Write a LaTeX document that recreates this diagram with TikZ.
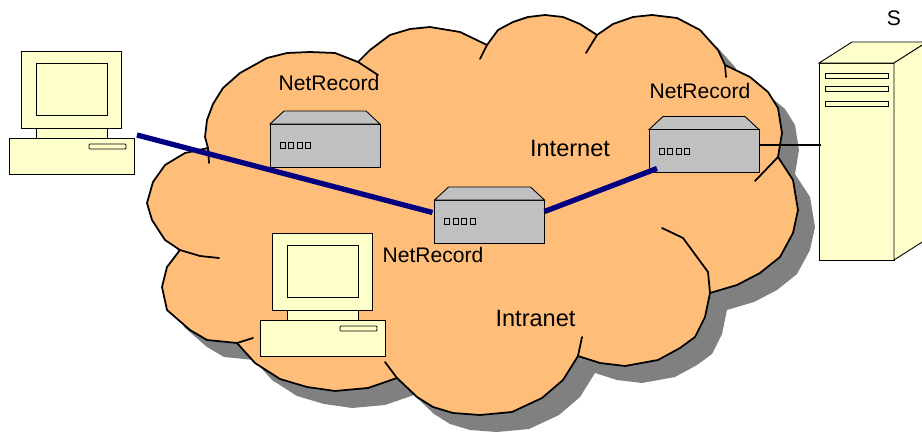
\documentclass[tikz,border=0pt]{standalone}
\usepackage{fontspec}
\setmainfont{Liberation Sans}
\usetikzlibrary{positioning}
\definecolor{cloudfill}{HTML}{FFBD7A}
\definecolor{pcfill}{HTML}{FFFFCC}
\definecolor{boxfill}{HTML}{C0C0C0}
\definecolor{cloudshade}{HTML}{808080}
\definecolor{wire}{HTML}{000080}
\tikzstyle{R} = [rectangle,draw=black,fill=boxfill,minimum width=2.2cm,minimum height=0.86cm,inner sep=0pt,outer sep=0pt,line width=0.5pt]
\tikzstyle{P} = [rectangle,draw=black,fill=boxfill,minimum width=0.1cm,minimum height=0.12cm,inner sep=0pt,outer sep=0pt,line width=0.4pt]
\tikzstyle{C} = [rectangle,draw=black,fill=pcfill,inner sep=0pt,outer sep=0pt,line width=0.5pt]
\tikzstyle{L} = [inner sep=0pt,font=\fontsize{12}{14}\selectfont]
\tikzstyle{T} = [L,font=\fontsize{13.4}{16}\selectfont]
\tikzstyle{edge} = [line width=1pt,line join=round,line cap=round]
\tikzstyle{link} = [draw=wire,line width=3pt]
% router: body, top face, four ports
\newcommand{\router}[2]{
  \node [R] (#1) at (#2) {};
  \draw [fill=boxfill,line width=0.5pt] (#1.north west) -- ++(14,-13) -- ++(82,0) -- (#1.north east) -- cycle;
  \node [P,anchor=west] (#1p1) at ([xshift=0.2cm]#1.west) {};
  \node [P,right=0.07cm of #1p1] (#1p2) {};
  \node [P,right=0.07cm of #1p2] (#1p3) {};
  \node [P,right=0.07cm of #1p3] (#1p4) {};
}
% computer: case with drive slot, neck, monitor, screen
\newcommand{\computer}[2]{
  \node [C,minimum width=2.5cm,minimum height=0.72cm] (#1) at (#2) {};
  \node [C,minimum width=1.42cm,minimum height=0.2cm,above=0pt of #1] (#1n) {};
  \node [C,minimum width=2cm,minimum height=1.54cm,above=0pt of #1n] (#1m) {};
  \node [C,minimum width=1.42cm,minimum height=1.04cm] (#1s) at ([yshift=0.78cm]#1m.south) {};
  \node [C,minimum width=0.74cm,minimum height=0.1cm,rounded corners=0.5pt,anchor=north east] (#1d) at ([xshift=-0.16cm,yshift=-0.12cm]#1.north east) {};
}

\begin{document}
\begin{tikzpicture}[x=0.02cm,y=-0.02cm]
  \path [use as bounding box] (0,0) rectangle (922,432);
  \clip (0,0) rectangle (922,432);

  % cloud outline
  \def\cloudpath{(208,148) -- (205,137) -- (207,120) -- (213,104) -- (223,88) -- (240,73) -- (267,58)
    -- (287,53) -- (310,52) -- (335,53) -- (358,62) -- (370,50) -- (390,35) -- (410,29) -- (430,27)
    -- (460,32) -- (487,45) -- (498,30) -- (513,22) -- (528,17) -- (545,15) -- (563,17) -- (580,24)
    -- (597,35) -- (613,24) -- (633,17) -- (652,15) -- (677,18) -- (700,30) -- (718,50) -- (725,65)
    -- (750,77) -- (768,92) -- (778,108) -- (782,133) -- (778,157) -- (793,180) -- (798,210) -- (793,233)
    -- (780,257) -- (760,273) -- (737,285) -- (710,293) -- (705,317) -- (695,337) -- (680,348)
    -- (658,360) -- (625,366) -- (600,363) -- (578,356) -- (563,380) -- (542,398) -- (512,412)
    -- (480,415) -- (453,413) -- (433,407) -- (417,397) -- (397,378) -- (368,388) -- (335,391)
    -- (307,387) -- (280,379) -- (255,363) -- (237,343) -- (207,340) -- (190,330) -- (167,310)
    -- (162,287) -- (167,267) -- (180,250) -- (165,240) -- (152,220) -- (147,203) -- (153,182)
    -- (165,165) -- (185,153) -- cycle}
  \fill [cloudshade,xshift=0.34cm,yshift=-0.34cm] \cloudpath;
  \draw [edge,fill=cloudfill] \cloudpath;
  \draw [edge] (208,148) -- (209,163);
  \draw [edge] (358,62) -- (378,75);
  \draw [edge] (487,45) -- (480,59);
  \draw [edge] (597,35) -- (586,53);
  \draw [edge] (725,65) -- (726,77);
  \draw [edge] (778,157) -- (755,181);
  \draw [edge] (710,293) -- (708,272) -- (683,238) -- (662,228);
  \draw [edge] (578,356) -- (582,337);
  \draw [edge] (397,378) -- (385,362);
  \draw [edge] (237,343) -- (253,338);
  \draw [edge] (180,250) -- (200,256) -- (219,258);

  \computer{pca}{71.5,156}
  \computer{pcb}{322.5,338}

  \router{ra}{325,145.5}
  \router{rb}{489.5,221.5}
  \router{rc}{704,151}

  % server
  \node [C,minimum width=1.5cm,minimum height=3.94cm] (srv) at (856.5,161.5) {};
  \draw [fill=pcfill,line width=0.5pt] (srv.north west) -- ++(33,-21) -- ++(75,0) -- ++(-33,21) -- cycle;
  \draw [fill=pcfill,line width=0.5pt] (srv.north east) -- ++(33,-21) -- ++(0,197) -- (srv.south east) -- cycle;
  \node [C,minimum width=1.26cm,minimum height=0.1cm,below=0.2cm of srv.north] (srvb1) {};
  \node [C,minimum width=1.26cm,minimum height=0.1cm,below=0.16cm of srvb1] (srvb2) {};
  \node [C,minimum width=1.26cm,minimum height=0.1cm,below=0.2cm of srvb2] (srvb3) {};

  \draw [link] ([xshift=0.06cm,yshift=0.06cm]pca.north east) -- ([xshift=-0.04cm,yshift=0.18cm]rb.west);
  \draw [link] ([yshift=0.2cm]rb.east) -- ([xshift=0.16cm,yshift=0.08cm]rc.south west);
  \draw [line width=0.6pt,shorten >=-1pt] ([yshift=0.12cm]rc.east) -- ([yshift=0.12cm]rc.east -| srv.west);

  \node [L] (la) at (329,83) {NetRecord};
  \node [L] (lb) at (433,255) {NetRecord};
  \node [L] (lc) at (700,91) {NetRecord};
  \node [T] (li) at (570,149) {Internet};
  \node [T] (lj) at (535.5,319) {Intranet};
  \node [L] (ls) at (894,18) {S};
\end{tikzpicture}
\end{document}
